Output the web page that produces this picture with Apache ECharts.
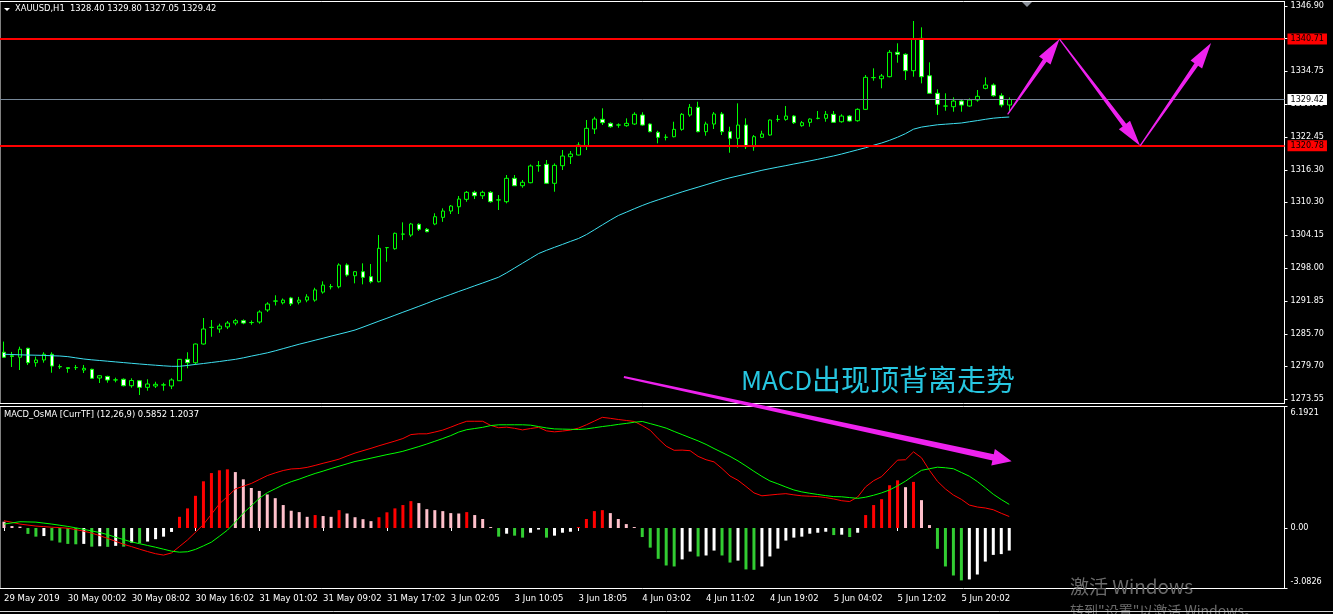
<!DOCTYPE html>
<html>
<head>
<meta charset="utf-8">
<script src="https://cdn.jsdelivr.net/npm/echarts@6/dist/echarts.min.js"></script>
<style>
html, body { margin: 0; padding: 0; background: #000; }
#chart { width: 1333px; height: 614px; }
</style>
</head>
<body>
<div id="chart"></div>
<script>
// ---- data ----
const symbolName = 'XAUUSD,H1';
const indicatorName = 'MACD_OsMA [CurrTF] (12,26,9)';
const slotCount = 161;          // bar slots on the time axis (chart shift leaves room on the right)
const labelEvery = 8;           // one time label every 8 bars
const timeLabels = ['29 May 2019', '30 May 00:02', '30 May 08:02', '30 May 16:02', '31 May 01:02',
  '31 May 09:02', '31 May 17:02', '3 Jun 02:05', '3 Jun 10:05', '3 Jun 18:05', '4 Jun 03:02',
  '4 Jun 11:02', '4 Jun 19:02', '5 Jun 04:02', '5 Jun 12:02', '5 Jun 20:02'];

// H1 bars: [open, close, low, high]
const candles = [
  [1282.27,1281.34,1281.21,1284.26],[1281.60,1281.50,1279.52,1282.33],[1281.34,1282.83,1278.96,1283.31],
  [1283.01,1280.33,1279.90,1283.10],[1280.33,1280.83,1279.57,1281.46],[1280.83,1281.89,1280.33,1282.27],
  [1281.89,1279.70,1278.45,1282.27],[1279.60,1279.55,1279.14,1280.02],[1279.40,1279.25,1278.45,1279.40],
  [1279.40,1279.42,1278.96,1279.90],[1278.96,1279.28,1278.40,1279.90],[1279.09,1277.41,1277.30,1279.20],
  [1277.46,1277.89,1276.53,1278.00],[1277.76,1277.09,1276.59,1277.89],[1277.10,1277.12,1276.66,1277.53],
  [1277.23,1276.03,1275.90,1277.40],[1276.03,1277.00,1275.66,1277.41],[1276.96,1275.73,1274.29,1277.00],
  [1275.73,1276.35,1275.10,1277.23],[1275.97,1276.29,1275.60,1276.77],[1276.15,1276.20,1275.10,1276.58],
  [1275.97,1277.10,1275.40,1277.41],[1276.96,1280.95,1276.90,1281.00],[1280.95,1280.32,1279.27,1282.27],
  [1280.32,1283.81,1279.90,1283.90],[1283.81,1286.61,1283.70,1288.66],[1286.90,1286.92,1285.17,1288.29],
  [1286.61,1287.16,1285.90,1287.60],[1287.00,1287.72,1286.60,1288.10],[1287.72,1288.16,1287.30,1288.50],
  [1288.16,1287.72,1287.50,1288.40],[1287.80,1287.82,1287.40,1288.20],[1287.91,1289.78,1287.60,1290.10],
  [1290.16,1291.27,1289.80,1291.60],[1291.80,1291.85,1291.00,1292.90],[1291.50,1292.00,1291.20,1292.30],
  [1292.40,1291.30,1290.90,1292.60],[1291.60,1292.00,1291.20,1292.60],[1292.00,1292.60,1291.60,1293.10],
  [1292.00,1293.90,1291.70,1294.30],[1293.50,1294.80,1293.20,1295.50],[1294.50,1294.52,1294.00,1295.00],
  [1294.50,1298.55,1294.20,1298.86],[1298.55,1296.68,1296.37,1298.86],[1296.55,1297.30,1295.13,1297.40],
  [1297.30,1296.25,1294.94,1298.86],[1296.37,1295.43,1295.13,1298.73],[1295.43,1301.66,1295.30,1304.14],
  [1301.78,1301.80,1299.16,1301.90],[1301.59,1304.46,1301.40,1304.60],[1304.30,1304.33,1303.20,1306.51],
  [1304.14,1306.20,1303.80,1306.40],[1306.14,1305.21,1304.90,1306.33],[1305.21,1304.76,1304.65,1305.45],
  [1306.20,1307.56,1305.98,1308.20],[1307.44,1308.62,1306.60,1309.12],[1308.62,1309.55,1308.06,1309.74],
  [1309.42,1310.86,1308.06,1311.42],[1310.80,1312.11,1310.35,1312.35],[1312.11,1311.47,1310.86,1312.41],
  [1311.47,1312.11,1310.86,1312.41],[1312.11,1310.36,1310.17,1312.35],[1310.68,1310.70,1308.81,1311.60],
  [1310.36,1314.72,1310.05,1315.34],[1314.72,1313.34,1313.29,1315.34],[1313.34,1313.98,1312.96,1314.41],
  [1313.90,1317.02,1313.80,1317.30],[1317.07,1317.10,1315.95,1317.95],[1317.33,1313.79,1313.66,1318.14],
  [1313.79,1317.14,1312.22,1317.50],[1317.07,1318.88,1316.27,1320.00],[1318.75,1319.25,1317.39,1319.81],
  [1319.07,1320.93,1319.00,1321.44],[1320.80,1324.05,1320.00,1325.60],[1323.92,1325.78,1322.99,1326.21],
  [1325.73,1325.10,1324.67,1327.78],[1324.98,1324.35,1324.16,1325.17],[1324.66,1324.68,1324.16,1324.98],
  [1324.54,1324.98,1324.35,1325.91],[1324.85,1326.66,1324.67,1327.04],[1326.53,1324.66,1324.54,1327.04],
  [1324.85,1323.42,1323.31,1324.98],[1323.30,1322.37,1321.25,1323.60],[1322.36,1322.40,1321.80,1322.93],
  [1322.48,1323.86,1322.37,1325.28],[1323.86,1326.66,1323.60,1326.90],[1326.53,1327.97,1326.21,1328.58],
  [1327.97,1323.42,1323.31,1329.01],[1323.42,1324.85,1322.67,1325.28],[1324.85,1326.72,1323.92,1327.09],
  [1326.72,1323.42,1322.80,1327.09],[1323.42,1322.18,1319.50,1324.35],[1322.18,1324.66,1320.43,1328.71],
  [1324.66,1320.62,1320.19,1325.91],[1320.62,1322.49,1319.87,1322.80],[1322.37,1322.99,1322.30,1323.60],
  [1322.80,1325.60,1322.70,1325.70],[1325.70,1325.72,1325.28,1326.53],[1325.72,1326.34,1325.46,1328.21],
  [1326.34,1325.10,1324.85,1326.53],[1324.54,1325.10,1324.35,1325.41],[1325.17,1325.78,1324.35,1325.91],
  [1325.90,1325.92,1325.73,1327.28],[1325.92,1326.66,1325.28,1327.28],[1326.66,1325.17,1325.10,1327.28],
  [1325.28,1326.34,1325.10,1326.66],[1326.34,1325.41,1325.28,1326.53],[1325.47,1327.59,1325.28,1327.78],
  [1327.59,1333.56,1327.46,1333.99],[1333.50,1333.52,1332.93,1335.24],[1333.30,1333.81,1331.52,1334.18],
  [1333.68,1338.23,1333.56,1338.66],[1338.23,1337.86,1336.29,1339.91],[1337.86,1334.80,1333.06,1338.04],
  [1334.80,1340.65,1333.68,1344.07],[1340.84,1333.68,1332.44,1342.89],[1333.86,1330.58,1330.50,1336.36],
  [1330.58,1328.53,1326.53,1331.33],[1328.20,1328.21,1327.33,1330.58],[1328.08,1329.14,1327.15,1329.83],
  [1329.14,1328.39,1327.15,1329.33],[1328.21,1329.33,1328.08,1329.64],[1329.33,1330.02,1329.02,1331.20],
  [1331.51,1332.13,1331.33,1333.56],[1332.13,1330.13,1329.95,1332.44],[1330.13,1328.40,1327.97,1330.58],
  [1328.40,1329.42,1327.05,1329.80]
];

// moving average drawn over the candles
const movingAverage = [
  1281.89,1281.85,1281.79,1281.75,1281.72,1281.68,1281.62,1281.57,1281.45,1281.23,
  1281.01,1280.86,1280.73,1280.60,1280.47,1280.34,1280.21,1280.08,1279.96,1279.85,
  1279.74,1279.65,1279.65,1279.81,1280.00,1280.17,1280.36,1280.54,1280.75,1280.95,
  1281.23,1281.55,1281.85,1282.16,1282.54,1282.95,1283.36,1283.77,1284.14,1284.52,
  1284.89,1285.28,1285.65,1286.02,1286.42,1286.96,1287.52,1288.08,1288.62,1289.18,
  1289.74,1290.28,1290.84,1291.40,1291.98,1292.52,1293.06,1293.61,1294.13,1294.67,
  1295.19,1295.73,1296.27,1297.09,1297.99,1298.89,1299.78,1300.68,1301.29,1301.85,
  1302.39,1302.95,1303.49,1304.22,1305.12,1306.03,1306.93,1307.78,1308.40,1309.04,
  1309.65,1310.21,1310.71,1311.20,1311.70,1312.19,1312.64,1313.08,1313.53,1313.98,
  1314.43,1314.82,1315.17,1315.51,1315.86,1316.22,1316.52,1316.81,1317.09,1317.39,
  1317.67,1317.97,1318.27,1318.59,1318.90,1319.26,1319.65,1320.04,1320.43,1320.90,
  1321.31,1321.81,1322.39,1323.06,1323.89,1324.28,1324.50,1324.71,1324.82,1324.93,
  1325.04,1325.27,1325.49,1325.73,1325.94,1326.07,1326.16
];

// MACD panel
const macdLine = [
  0.37,0.29,0.20,0.15,0.10,0.07,0.04,0.02,-0.01,-0.08,
  -0.16,-0.26,-0.39,-0.53,-0.68,-0.83,-0.95,-1.08,-1.20,-1.31,
  -1.38,-1.27,-0.94,-0.61,-0.22,0.18,0.70,1.23,1.60,1.99,
  2.13,2.27,2.47,2.67,2.81,2.93,3.01,3.03,3.09,3.19,
  3.30,3.40,3.51,3.67,3.82,3.94,4.06,4.19,4.31,4.43,
  4.56,4.76,4.80,4.80,4.89,4.99,5.14,5.30,5.44,5.44,
  5.44,5.23,5.11,5.14,5.08,5.00,5.07,5.13,4.95,4.90,
  4.94,4.99,5.09,5.26,5.45,5.64,5.59,5.53,5.48,5.43,
  5.22,4.98,4.55,4.17,3.96,3.97,3.94,3.65,3.48,3.37,
  3.03,2.65,2.43,2.12,1.79,1.64,1.68,1.72,1.75,1.69,
  1.64,1.62,1.60,1.55,1.48,1.39,1.35,1.58,2.10,2.41,
  2.62,3.04,3.46,3.48,3.88,3.58,2.94,2.38,1.99,1.68,
  1.46,1.17,1.07,1.02,0.93,0.75,0.5852
];
const signalLine = [
  0.20,0.26,0.32,0.31,0.30,0.25,0.20,0.14,0.08,0.01,
  -0.07,-0.15,-0.23,-0.34,-0.47,-0.59,-0.71,-0.80,-0.89,-0.98,
  -1.08,-1.18,-1.23,-1.21,-1.09,-0.91,-0.72,-0.42,-0.11,0.30,
  0.76,1.13,1.51,1.80,2.00,2.20,2.36,2.49,2.64,2.78,
  2.90,3.03,3.15,3.27,3.39,3.47,3.56,3.65,3.74,3.82,
  3.91,4.03,4.15,4.28,4.42,4.56,4.71,4.89,5.01,5.07,
  5.13,5.22,5.26,5.26,5.26,5.26,5.24,5.17,5.10,5.05,
  5.04,5.03,5.02,5.05,5.11,5.17,5.22,5.28,5.33,5.39,
  5.43,5.32,5.21,5.09,4.92,4.76,4.60,4.44,4.26,4.05,
  3.85,3.65,3.42,3.16,2.89,2.63,2.40,2.25,2.09,1.94,
  1.84,1.77,1.71,1.65,1.60,1.59,1.55,1.51,1.57,1.67,
  1.79,1.94,2.15,2.39,2.67,2.94,3.02,3.10,3.07,3.02,
  2.83,2.64,2.37,2.05,1.72,1.45,1.2037
];
const osma = [
  0.32,0.10,0.07,-0.30,-0.44,-0.41,-0.64,-0.74,-0.81,-0.83,
  -0.81,-0.95,-0.93,-0.96,-0.91,-0.95,-0.74,-0.78,-0.69,-0.57,
  -0.44,-0.20,0.57,1.00,1.64,2.38,2.80,2.94,2.99,2.85,
  2.48,2.04,1.89,1.71,1.52,1.17,0.88,0.81,0.57,0.66,
  0.61,0.57,0.91,0.74,0.55,0.45,0.35,0.55,0.80,1.00,
  1.17,1.37,1.27,0.96,0.91,0.86,0.76,0.74,0.81,0.66,
  0.46,0.05,-0.44,-0.29,-0.39,-0.49,-0.24,-0.08,-0.49,-0.39,
  -0.24,-0.19,0.05,0.46,0.86,0.91,0.76,0.46,0.20,0.05,
  -0.46,-1.00,-1.57,-1.91,-1.96,-1.60,-1.20,-1.45,-1.40,-1.15,
  -1.40,-1.76,-1.66,-2.11,-2.13,-1.96,-1.45,-1.05,-0.64,-0.49,
  -0.44,-0.29,-0.24,-0.19,-0.36,-0.34,-0.46,-0.24,0.66,1.17,
  1.47,2.18,2.43,2.08,2.35,1.42,0.15,-1.06,-1.96,-2.42,
  -2.67,-2.62,-2.37,-1.71,-1.37,-1.33,-1.15
];

// axis scales and ticks
const priceMin = 1272.71, priceMax = 1347.71;
const priceTicks = [1346.90, 1340.80, 1334.75, 1328.60, 1322.45, 1316.30, 1310.30, 1304.15,
  1298.00, 1291.85, 1285.70, 1279.70, 1273.55];
const macdMin = -3.0826, macdMax = 6.1921;
const macdTicks = [6.1921, 0, -3.0826];

// horizontal levels and the bid line
const levelPrices = [1340.71, 1320.78];
const bidPrice = 1329.42;

// forecast zig-zag [bar index, price] and the divergence arrow
const forecastPath = [[125.8, 1326.66], [132.3, 1340.71], [142.4, 1320.78], [151.3, 1339.96]];
const divergenceFrom = [77.7, 1277.65];   // price panel
const divergenceTo = [126.3, 3.40];       // MACD panel
const noteLatin = 'MACD';
const noteHan = '出现顶背离走势';

// ---- chart ----
const FONT = '"DejaVu Sans Condensed", "DejaVu Sans", sans-serif';
const slots = Array.from({ length: slotCount }, (_, i) => String(i));
const hasLabel = (i) => i % labelEvery === 0 && (i / labelEvery) < timeLabels.length;

const osmaColour = (i) => {
  const v = osma[i];
  const prev = i > 0 ? osma[i - 1] : null;
  if (v >= 0) return (prev !== null && v > prev) ? '#ff0000' : '#ffc0cb';
  return (prev === null || v < prev) ? '#32cd32' : '#ffffff';
};

const chart = echarts.init(document.getElementById('chart'), null, { renderer: 'canvas' });

const lastBar = candles[candles.length - 1];
const headerText = symbolName + '  ' + [lastBar[0], lastBar[3], lastBar[2], lastBar[1]].map(v => v.toFixed(2)).join(' ');
const lastMacd = macdLine[macdLine.length - 1], lastSignal = signalLine[signalLine.length - 1];

const levelLabel = (bg) => ({
  show: true, position: 'end', distance: 3, formatter: (p) => p.value.toFixed(2),
  backgroundColor: bg, color: '#000', fontFamily: FONT, fontSize: 9, padding: [1, 3, 1, 3]
});

chart.setOption({
  animation: false,
  backgroundColor: '#000',
  grid: [
    { left: -3.5, top: 1.5, width: 1288, height: 402, show: true, borderColor: '#fff', borderWidth: 1, backgroundColor: 'transparent' },
    { left: -3.5, top: 406.5, width: 1288, height: 182, show: true, borderColor: '#fff', borderWidth: 1, backgroundColor: 'transparent' }
  ],
  xAxis: [
    { type: 'category', gridIndex: 0, data: slots, boundaryGap: true, show: false },
    {
      type: 'category', gridIndex: 1, data: slots, boundaryGap: true,
      axisLine: { show: false },
      axisTick: { show: true, alignWithLabel: true, length: 3, interval: (i) => hasLabel(i), lineStyle: { color: '#fff' } },
      axisLabel: {
        show: true, interval: (i) => hasLabel(i), formatter: (v, i) => hasLabel(i) ? timeLabels[i / labelEvery] : '',
        color: '#fff', fontFamily: FONT, fontSize: 9.5, align: 'left', margin: 5
      },
      splitLine: { show: false }
    }
  ],
  yAxis: [
    {
      type: 'value', gridIndex: 0, position: 'right', min: priceMin, max: priceMax, scale: true,
      axisLine: { show: true, lineStyle: { color: '#fff' } },
      axisTick: { show: true, length: 3, customValues: priceTicks, lineStyle: { color: '#fff' } },
      axisLabel: { show: true, customValues: priceTicks, formatter: (v) => v.toFixed(2), color: '#fff', fontFamily: FONT, fontSize: 9, margin: 6 },
      splitLine: { show: false }
    },
    {
      type: 'value', gridIndex: 1, position: 'right', min: macdMin, max: macdMax,
      axisLine: { show: true, lineStyle: { color: '#fff' } },
      axisTick: { show: true, length: 3, customValues: macdTicks, lineStyle: { color: '#fff' } },
      axisLabel: {
        show: true, customValues: macdTicks, margin: 6,
        formatter: (v) => {
          const t = v === 0 ? '0.00' : v.toFixed(4);
          return v > 0 ? '{hi|' + t + '}' : (v < 0 ? '{lo|' + t + '}' : t);
        },
        color: '#fff', fontFamily: FONT, fontSize: 9,
        rich: {
          hi: { color: '#fff', fontFamily: FONT, fontSize: 9, padding: [13, 0, 0, 0] },
          lo: { color: '#fff', fontFamily: FONT, fontSize: 9, padding: [0, 0, 13, 0] }
        }
      },
      splitLine: { show: false }
    }
  ],
  series: [
    {
      name: 'XAUUSD', type: 'candlestick', xAxisIndex: 0, yAxisIndex: 0, data: candles, barWidth: 4, silent: true,
      itemStyle: { color: '#000', color0: '#fff', borderColor: '#00ff00', borderColor0: '#00ff00', borderColorDoji: '#00ff00', borderWidth: 1 },
      markLine: {
        silent: true, symbol: ['none', 'none'], animation: false,
        data: [
          { yAxis: bidPrice, lineStyle: { color: '#778899', width: 1, type: 'solid' }, label: levelLabel('#ffffff') },
          ...levelPrices.map(p => ({ yAxis: p, lineStyle: { color: '#ff0000', width: 2, type: 'solid' }, label: levelLabel('#ff0000') }))
        ]
      }
    },
    {
      name: 'MA', type: 'line', xAxisIndex: 0, yAxisIndex: 0, data: movingAverage, symbol: 'none', silent: true,
      lineStyle: { color: '#3ee0f0', width: 1 }
    },
    {
      name: 'OsMA', type: 'bar', xAxisIndex: 1, yAxisIndex: 1, data: osma, barWidth: 3, silent: true,
      itemStyle: { color: (p) => osmaColour(p.dataIndex) }
    },
    {
      name: 'MACD', type: 'line', xAxisIndex: 1, yAxisIndex: 1, data: macdLine, symbol: 'none', silent: true,
      lineStyle: { color: '#ff0000', width: 1 }
    },
    {
      name: 'Signal', type: 'line', xAxisIndex: 1, yAxisIndex: 1, data: signalLine, symbol: 'none', silent: true,
      lineStyle: { color: '#00ff00', width: 1 }
    }
  ]
});

// pixel position of a [bar index (may be fractional), value] pair on a panel
function toPixel(g, pt) {
  const i0 = Math.floor(pt[0]);
  const a = chart.convertToPixel({ xAxisIndex: g, yAxisIndex: g }, [i0, pt[1]]);
  const b = chart.convertToPixel({ xAxisIndex: g, yAxisIndex: g }, [i0 + 1, pt[1]]);
  return [a[0] + (pt[0] - i0) * (b[0] - a[0]), a[1]];
}

// tapered arrow outline from a to b
function arrowShape(a, b, s) {
  const dx = b[0] - a[0], dy = b[1] - a[1], len = Math.hypot(dx, dy);
  const ux = dx / len, uy = dy / len, nx = -uy, ny = ux;
  const c = [b[0] - ux * s.headLen, b[1] - uy * s.headLen];
  const off = (p, w) => [p[0] + nx * w, p[1] + ny * w];
  return [off(a, s.tail), off(c, s.neck), off(c, s.head), b, off(c, -s.head), off(c, -s.neck), off(a, -s.tail)];
}

const MAGENTA = '#ee22ee';
const zigStyle = { tail: 0.6, neck: 2.2, head: 7, headLen: 26 };
const zigPts = forecastPath.map(p => toPixel(0, p));
const arrows = [];
for (let k = 0; k < zigPts.length - 1; k++) {
  arrows.push({ type: 'polygon', z: 50, silent: true, shape: { points: arrowShape(zigPts[k], zigPts[k + 1], zigStyle) }, style: { fill: MAGENTA } });
}
const divA = toPixel(0, divergenceFrom), divB = toPixel(1, divergenceTo);
arrows.push({ type: 'polygon', z: 50, silent: true, shape: { points: arrowShape(divA, divB, { tail: 1, neck: 3.2, head: 8.5, headLen: 19 }) }, style: { fill: MAGENTA } });

const txt = (x, y, text, size, fill, family) => ({
  type: 'text', x: x, y: y, z: 60, silent: true,
  style: { text: text, fill: fill, font: size + 'px ' + family, textVerticalAlign: 'middle', verticalAlign: 'middle' }
});
const CJK = '"Noto Sans CJK SC", "Liberation Sans", sans-serif';

chart.setOption({
  graphic: [
    { type: 'polygon', z: 60, silent: true, shape: { points: [[4, 8], [10, 8], [7, 11]] }, style: { fill: '#fff' } },
    txt(15, 9, headerText, 9.3, '#fff', FONT),
    txt(4, 415, indicatorName + ' ' + lastMacd.toFixed(4) + ' ' + lastSignal.toFixed(4), 9.3, '#fff', FONT),
    { type: 'polygon', z: 60, silent: true, shape: { points: [[1022, 2], [1032, 2], [1027, 7]] }, style: { fill: '#8a9099' } },
    ...arrows,
    {
      type: 'text', x: 741, y: 380, z: 60, silent: true,
      style: {
        text: '{a|' + noteLatin + '}{b|' + noteHan + '}', textVerticalAlign: 'middle', verticalAlign: 'middle',
        fill: '#27c6e0', font: '28px ' + CJK,
        rich: {
          a: { fill: '#27c6e0', fontSize: 26, fontFamily: CJK },
          b: { fill: '#27c6e0', fontSize: 29, fontFamily: CJK }
        }
      }
    },
    txt(1070, 587, '激活 Windows', 19, '#6a6a6a', CJK),
    txt(1070, 611, '转到"设置"以激活 Windows。', 14, '#6a6a6a', CJK),
    { type: 'line', z: 60, silent: true, shape: { x1: 0, y1: 611.5, x2: 1333, y2: 611.5 }, style: { stroke: '#d8d8d8', lineWidth: 1 } }
  ]
});
</script>
</body>
</html>
